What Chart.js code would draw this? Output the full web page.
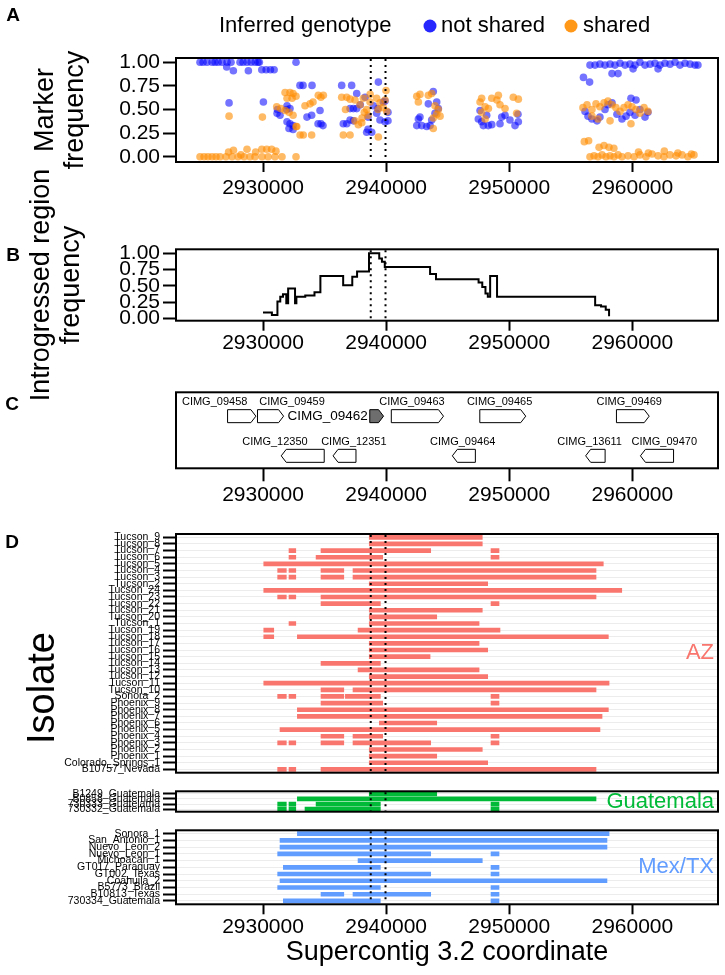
<!DOCTYPE html>
<html>
<head>
<meta charset="utf-8">
<title>Introgressed region on supercontig 3.2</title>
<script src="https://cdn.jsdelivr.net/npm/chart.js"></script>
<style>
  html, body { margin: 0; padding: 0; background: #ffffff; }
  #page { position: relative; width: 725px; height: 975px; overflow: hidden; }
  #page canvas { position: absolute; left: 0; }
</style>
</head>
<body>
<div id="page">
  <canvas id="panel_a" width="725" height="200" style="top:0px"></canvas>
  <canvas id="panel_b" width="725" height="235" style="top:165px"></canvas>
  <canvas id="panel_c" width="725" height="135" style="top:380px"></canvas>
  <canvas id="panel_d_az" width="725" height="267" style="top:515px"></canvas>
  <canvas id="panel_d_gt" width="725" height="39" style="top:782px"></canvas>
  <canvas id="panel_d_mx" width="725" height="154" style="top:821px"></canvas>
</div>
<script>
const FONT = '"Liberation Sans", Arial, Helvetica, sans-serif';

// shared x axis (supercontig coordinate)
const X_MIN = 2922930;
const X_MAX = 2966960;
const xTicks = [2930000, 2940000, 2950000, 2960000];
const yTicks = [0, 0.25, 0.5, 0.75, 1];
const dottedX = [2938750, 2939950];

// panel A: marker frequency, [coordinate, frequency]
const notShared = [
  [2924880,1.00],[2925130,1.00],[2925450,1.00],[2925860,1.00],[2926100,1.00],[2926350,1.00],[2926670,1.00],
  [2927080,1.00],[2927400,1.00],[2928130,1.00],[2928380,1.00],[2928700,1.00],[2929030,1.00],[2929350,1.00],
  [2929590,1.00],[2929700,1.00],[2927050,0.95],[2927590,0.91],[2928810,0.91],[2929900,0.92],[2930250,0.92],
  [2930600,0.92],[2930900,0.92],[2932680,1.00],[2927240,0.57],[2930030,0.58],
  [2933000,0.755],[2933250,0.755],[2933980,0.755],[2931950,0.54],[2932190,0.51],[2931140,0.46],[2931380,0.44],
  [2931950,0.37],[2932190,0.35],[2932440,0.33],[2932110,0.30],[2932440,0.29],[2933570,0.42],[2933950,0.44],
  [2934630,0.49],[2934470,0.35],[2934870,0.33],[2934710,0.35],[2931170,0.50],[2931920,0.50],
  [2936390,0.755],[2937200,0.755],[2937610,0.67],[2937070,0.51],[2937340,0.51],[2937610,0.51],[2936520,0.35],
  [2936800,0.35],[2937070,0.39],[2937340,0.38],[2938420,0.26],[2938830,0.26],[2938530,0.29],[2939370,0.79],
  [2938960,0.54],[2939230,0.46],[2939500,0.39],[2939770,0.58],[2939910,0.37],[2939340,0.51],[2939910,0.59],
  [2940150,0.47],[2940150,0.38],[2938530,0.42],[2938290,0.63],[2937900,0.55],
  [2943830,0.69],[2943430,0.56],[2944240,0.51],[2944110,0.58],[2942620,0.40],[2942750,0.42],[2942490,0.33],
  [2942890,0.33],[2943300,0.32],[2943570,0.33],[2943700,0.39],[2943970,0.46],
  [2947490,0.40],[2947760,0.37],[2947900,0.33],[2948580,0.34],[2949250,0.35],[2947630,0.49],[2948170,0.44],
  [2949390,0.42],[2949660,0.44],[2950060,0.39],[2950470,0.33],[2950740,0.37],[2950710,0.45],[2948300,0.33],
  [2956560,0.97],[2956970,0.97],[2957370,0.98],[2957780,0.97],[2958190,0.98],[2958590,0.97],[2959000,0.99],
  [2959410,0.97],[2959810,0.98],[2960220,0.97],[2960620,1.00],[2961030,0.97],[2961440,0.98],[2961840,0.99],
  [2962250,0.97],[2962650,0.99],[2963060,0.98],[2963470,1.00],[2963870,0.97],[2964280,0.99],[2964690,0.98],
  [2965090,0.97],[2965330,0.97],[2958350,0.88],[2958840,0.88],[2956030,0.84],[2956530,0.79],[2960060,0.93],
  [2962090,0.93],[2959890,0.62],[2960300,0.60],
  [2956160,0.48],[2956400,0.43],[2956720,0.40],[2957130,0.38],[2957370,0.42],[2957780,0.50],[2958020,0.55],
  [2958350,0.57],[2958750,0.45],[2959160,0.40],[2959490,0.43],[2959810,0.47],[2960220,0.44],[2960620,0.50],
  [2961030,0.42],[2961270,0.47]
];
const shared = [
  [2924880,0],[2925210,0],[2925530,0],[2925860,0],[2926180,0],[2926510,0],[2926990,0],[2927480,0],
  [2927970,0],[2928460,0],[2928940,0],[2929350,0],[2929920,0],[2930410,0],[2930970,0],[2931540,0],[2932680,0],
  [2927200,0.05],[2927600,0.07],[2928700,0.08],[2928200,0.02],[2929400,0.05],[2929900,0.08],[2930300,0.08],
  [2930700,0.08],[2931050,0.06],[2927240,0.43],[2929950,0.42],
  [2931790,0.68],[2932190,0.68],[2932440,0.67],[2931950,0.62],[2932360,0.62],[2932680,0.64],[2931110,0.53],
  [2931440,0.51],[2931790,0.49],[2932110,0.47],[2932440,0.44],[2932740,0.32],[2933010,0.23],[2933270,0.23],
  [2933950,0.23],[2933410,0.54],[2933820,0.56],[2934060,0.58],[2934490,0.65],[2934900,0.65],[2934700,0.63],
  [2932680,0.32],
  [2936390,0.63],[2936800,0.63],[2937070,0.61],[2937470,0.60],[2936520,0.23],[2937070,0.23],[2937470,0.38],
  [2937740,0.34],[2938020,0.36],[2937880,0.55],[2938150,0.62],[2938420,0.50],[2938530,0.44],[2938690,0.58],
  [2938230,0.47],[2938040,0.41],[2939230,0.62],[2939500,0.57],[2939770,0.52],[2940050,0.48],[2939340,0.50],
  [2939910,0.60],[2939370,0.21],[2939990,0.70],[2938700,0.66],[2936700,0.50],
  [2942490,0.64],[2942750,0.66],[2943430,0.65],[2943700,0.67],[2942620,0.58],[2943970,0.54],[2944240,0.50],
  [2944380,0.43],[2943830,0.41],[2944110,0.45],[2943830,0.30],
  [2947760,0.62],[2948580,0.62],[2949120,0.65],[2947630,0.58],[2948040,0.53],[2948310,0.51],[2949250,0.55],
  [2949660,0.51],[2950330,0.63],[2950740,0.61],[2947760,0.47],[2948040,0.40],[2950600,0.46],[2949000,0.60],
  [2956560,0],[2956890,0.01],[2957210,0],[2957540,0.02],[2957860,0],[2958190,0.01],[2958510,0],[2958840,0.02],
  [2959160,0],[2959650,0.01],[2960140,0],[2960620,0.02],[2961110,0],[2961600,0.03],[2962090,0.01],[2962570,0],
  [2963060,0.02],[2963550,0.01],[2964040,0.02],[2964520,0],[2965010,0.02],
  [2957300,0.10],[2957700,0.12],[2958100,0.10],[2958500,0.09],[2956100,0.16],[2956450,0.17],[2960500,0.05],
  [2961300,0.04],[2962600,0.06],[2963700,0.04],[2964800,0.03],
  [2955990,0.52],[2956320,0.55],[2956720,0.50],[2957050,0.56],[2957370,0.53],[2957700,0.57],[2958020,0.59],
  [2958350,0.55],[2958670,0.52],[2959000,0.48],[2959320,0.52],[2959650,0.55],[2959970,0.53],[2960300,0.50],
  [2960620,0.46],[2960950,0.52],[2961270,0.48],[2956720,0.43],[2957210,0.40],[2959890,0.35],[2958190,0.38]
];

// panel B: introgressed region frequency (step line)
const stepX = [2930000, 2930720, 2931170, 2931400, 2931620, 2931890, 2932040, 2932600, 2932710, 2933430,
  2934180, 2934660, 2936510, 2937250, 2937640, 2938610, 2939440, 2939660, 2939890, 2943570, 2944050,
  2947510, 2947810, 2948070, 2948260, 2948450, 2949010, 2956980, 2957460, 2957840, 2958110];
const stepY = [0.09, 0.05, 0.26, 0.33, 0.37, 0.23, 0.46, 0.23, 0.33, 0.35, 0.40, 0.65, 0.51, 0.64, 0.72,
  1.00, 0.92, 0.87, 0.79, 0.68, 0.60, 0.55, 0.48, 0.38, 0.33, 0.65, 0.33, 0.20, 0.18, 0.13, 0.03];

// panel C: genes
const geneNames  = ['CIMG_09458','CIMG_09459','CIMG_09462','CIMG_09463','CIMG_09465','CIMG_09469',
                    'CIMG_12350','CIMG_12351','CIMG_09464','CIMG_13611','CIMG_09470'];
const geneStart  = [2927120, 2929550, 2938670, 2940420, 2947610, 2958710, 2931480, 2935690, 2945380, 2956210, 2960660];
const geneEnd    = [2929420, 2931670, 2939790, 2944660, 2951340, 2961370, 2934970, 2937550, 2947250, 2957790, 2963350];
const geneStrand = [1, 1, 1, 1, 1, 1, -1, -1, -1, -1, -1];
const geneRow    = [0, 0, 0, 0, 0, 0, 1, 1, 1, 1, 1];
const geneFocus  = [false, false, true, false, false, false, false, false, false, false, false];
const geneLabelX = [2926070, 2932360, 2935250, 2942100, 2949220, 2959750, 2930970, 2937380, 2946220, 2956530, 2962600];
const geneRowY   = [0.686, 0.164];
const geneLabelY = [0.876, 0.35];

// panel D: introgressed tracts per isolate [isolate, start, end]
const azRows = ['Tucson_9','Tucson_8','Tucson_7','Tucson_6','Tucson_5','Tucson_4','Tucson_3','Tucson_2',
  'Tucson_24','Tucson_23','Tucson_22','Tucson_21','Tucson_20','Tucson_1','Tucson_19','Tucson_18','Tucson_17',
  'Tucson_16','Tucson_15','Tucson_14','Tucson_13','Tucson_12','Tucson_11','Tucson_10','Sonora_2','Phoenix_9',
  'Phoenix_8','Phoenix_7','Phoenix_6','Phoenix_5','Phoenix_4','Phoenix_3','Phoenix_2','Phoenix_1',
  'Colorado_Springs_1','B10757_Nevada'];
const azSegments = [
  ['Tucson_9', 2938630, 2947810],
  ['Tucson_8', 2938630, 2947810],
  ['Tucson_7', 2932110, 2932660], ['Tucson_7', 2934710, 2943620], ['Tucson_7', 2948520, 2949170],
  ['Tucson_6', 2932110, 2932660], ['Tucson_6', 2934310, 2939720], ['Tucson_6', 2948520, 2949170],
  ['Tucson_5', 2930060, 2957640],
  ['Tucson_4', 2931190, 2931890], ['Tucson_4', 2932110, 2932660], ['Tucson_4', 2934710, 2936560], ['Tucson_4', 2937310, 2957050],
  ['Tucson_3', 2931190, 2931890], ['Tucson_3', 2932110, 2932660], ['Tucson_3', 2934710, 2936560], ['Tucson_3', 2937310, 2957050],
  ['Tucson_2', 2938630, 2948250],
  ['Tucson_24', 2930060, 2959140],
  ['Tucson_23', 2931190, 2931890], ['Tucson_23', 2932110, 2932660], ['Tucson_23', 2934710, 2957050],
  ['Tucson_22', 2934710, 2939530], ['Tucson_22', 2948520, 2949170],
  ['Tucson_21', 2938630, 2947810],
  ['Tucson_20', 2938630, 2944110],
  ['Tucson_1', 2932110, 2932660], ['Tucson_1', 2938630, 2947550],
  ['Tucson_19', 2930060, 2930870], ['Tucson_19', 2937720, 2949250],
  ['Tucson_18', 2930060, 2930870], ['Tucson_18', 2932790, 2958050],
  ['Tucson_17', 2938630, 2947550],
  ['Tucson_16', 2938630, 2948250],
  ['Tucson_15', 2938630, 2943570],
  ['Tucson_14', 2934710, 2939530],
  ['Tucson_13', 2937720, 2947550],
  ['Tucson_12', 2938630, 2948250],
  ['Tucson_11', 2930060, 2958110],
  ['Tucson_10', 2934710, 2936560], ['Tucson_10', 2937310, 2957050],
  ['Sonora_2', 2931190, 2931890], ['Sonora_2', 2932110, 2932660], ['Sonora_2', 2934710, 2936560],
  ['Sonora_2', 2936690, 2939530], ['Sonora_2', 2948520, 2949170],
  ['Phoenix_9', 2934710, 2939720], ['Phoenix_9', 2948520, 2949170],
  ['Phoenix_8', 2932790, 2958050],
  ['Phoenix_7', 2932790, 2957540],
  ['Phoenix_6', 2939450, 2944110],
  ['Phoenix_5', 2931380, 2957370],
  ['Phoenix_4', 2934710, 2936560], ['Phoenix_4', 2937310, 2939720], ['Phoenix_4', 2948520, 2949170],
  ['Phoenix_3', 2931190, 2931890], ['Phoenix_3', 2932110, 2932660], ['Phoenix_3', 2934710, 2936560],
  ['Phoenix_3', 2937310, 2943620], ['Phoenix_3', 2948520, 2949170],
  ['Phoenix_2', 2938630, 2947810],
  ['Phoenix_1', 2938630, 2944110],
  ['Colorado_Springs_1', 2938630, 2948250],
  ['B10757_Nevada', 2931190, 2931890], ['B10757_Nevada', 2932110, 2932660], ['B10757_Nevada', 2934710, 2957050]
];

const gtRows = ['B1249_Guatemala','B0858_Guatemala','730333_Guatelama','730332_Guatemala'];
const gtSegments = [
  ['B1249_Guatemala', 2938630, 2944110],
  ['B0858_Guatemala', 2932790, 2957050],
  ['730333_Guatelama', 2931190, 2931890], ['730333_Guatelama', 2932110, 2932660],
  ['730333_Guatelama', 2934310, 2939530], ['730333_Guatelama', 2948520, 2949170],
  ['730332_Guatemala', 2931190, 2931890], ['730332_Guatemala', 2932110, 2932660],
  ['730332_Guatemala', 2933410, 2939530], ['730332_Guatemala', 2948520, 2949170]
];

const mxRows = ['Sonora_1','San_Antonio_1','Nuevo_Leon_2','Nuevo_Leon_1','Michoacan_1','GT017_Paraguay',
  'GT002_Texas','Coahuila_2','B5773_Brazil','B10813_Texas','730334_Guatemala'];
const mxSegments = [
  ['Sonora_1', 2932790, 2958110],
  ['San_Antonio_1', 2931380, 2957940],
  ['Nuevo_Leon_2', 2931380, 2957940],
  ['Nuevo_Leon_1', 2931190, 2943620], ['Nuevo_Leon_1', 2948520, 2949170],
  ['Michoacan_1', 2937720, 2947810],
  ['GT017_Paraguay', 2931650, 2939530], ['GT017_Paraguay', 2948520, 2949170],
  ['GT002_Texas', 2931190, 2943620], ['GT002_Texas', 2948520, 2949170],
  ['Coahuila_2', 2931380, 2957940],
  ['B5773_Brazil', 2931190, 2939530], ['B5773_Brazil', 2948520, 2949170],
  ['B10813_Texas', 2934710, 2936560], ['B10813_Texas', 2937310, 2943620], ['B10813_Texas', 2948520, 2949170],
  ['730334_Guatemala', 2931650, 2939530], ['730334_Guatemala', 2948520, 2949170]
];

const BLUE = 'rgba(0, 0, 255, 0.55)';
const ORANGE = 'rgba(255, 140, 0, 0.6)';

document.addEventListener('DOMContentLoaded', function () {

  if (typeof Chart === 'undefined') {
    console.error('Chart.js is not loaded');
    return;
  }

  Chart.defaults.font.family = FONT;
  Chart.defaults.color = '#000000';

  const frameBox = {
    id: 'frameBox',
    afterDraw(chart) {
      const a = chart.chartArea, ctx = chart.ctx;
      ctx.save();
      ctx.strokeStyle = '#000000';
      ctx.lineWidth = 2;
      ctx.strokeRect(a.left, a.top, a.right - a.left, a.bottom - a.top);
      ctx.restore();
    }
  };

  const dottedLines = {
    id: 'dottedLines',
    afterDatasetsDraw(chart) {
      const a = chart.chartArea, ctx = chart.ctx, xs = chart.scales.x;
      ctx.save();
      ctx.strokeStyle = '#000000';
      ctx.lineWidth = 2;
      ctx.setLineDash([2, 4]);
      dottedX.forEach(v => {
        const px = xs.getPixelForValue(v);
        ctx.beginPath();
        ctx.moveTo(px, a.top + 1);
        ctx.lineTo(px, a.bottom - 1);
        ctx.stroke();
      });
      ctx.restore();
    }
  };

  function textPlugin(items) {
    return {
      id: 'extraText',
      afterDraw(chart) {
        const ctx = chart.ctx;
        items.forEach(t => {
          ctx.save();
          ctx.font = t.font;
          ctx.fillStyle = t.color || '#000000';
          ctx.textAlign = t.align || 'left';
          ctx.textBaseline = 'middle';
          ctx.translate(t.x, t.y);
          if (t.rotate) ctx.rotate(t.rotate);
          ctx.fillText(t.text, 0, 0);
          ctx.restore();
        });
      }
    };
  }

  function groupLabel(text, color) {
    return {
      id: 'groupLabel',
      afterDraw(chart) {
        const a = chart.chartArea, ctx = chart.ctx;
        ctx.save();
        ctx.font = '22px ' + FONT;
        ctx.fillStyle = color;
        ctx.textAlign = 'right';
        ctx.textBaseline = 'middle';
        ctx.fillText(text, a.right - 4, (a.top + a.bottom) / 2);
        ctx.restore();
      }
    };
  }

  const legendA = {
    id: 'legendA',
    afterDraw(chart) {
      const ctx = chart.ctx, y = 26;
      ctx.save();
      ctx.font = '22px ' + FONT;
      ctx.fillStyle = '#000000';
      ctx.textBaseline = 'middle';
      ctx.textAlign = 'left';
      ctx.fillText('Inferred genotype', 219, y);
      ctx.fillText('not shared', 441, y);
      ctx.fillText('shared', 583, y);
      ctx.fillStyle = 'rgba(0, 0, 255, 0.85)';
      ctx.beginPath(); ctx.arc(430, y, 6.5, 0, Math.PI * 2); ctx.fill();
      ctx.fillStyle = 'rgba(255, 140, 0, 0.9)';
      ctx.beginPath(); ctx.arc(571, y, 6.5, 0, Math.PI * 2); ctx.fill();
      ctx.restore();
    }
  };

  const genesPlugin = {
    id: 'genes',
    afterDatasetsDraw(chart) {
      const xs = chart.scales.x, ys = chart.scales.y, ctx = chart.ctx;
      const head = 5, half = 6.5;
      ctx.save();
      ctx.lineWidth = 1;
      ctx.strokeStyle = '#000000';
      geneNames.forEach((name, i) => {
        const x1 = xs.getPixelForValue(geneStart[i]);
        const x2 = xs.getPixelForValue(geneEnd[i]);
        const yc = ys.getPixelForValue(geneRowY[geneRow[i]]);
        const yt = yc - half, yb = yc + half;
        ctx.beginPath();
        if (geneStrand[i] > 0) {
          ctx.moveTo(x1, yt); ctx.lineTo(x2 - head, yt); ctx.lineTo(x2, yc);
          ctx.lineTo(x2 - head, yb); ctx.lineTo(x1, yb);
        } else {
          ctx.moveTo(x2, yt); ctx.lineTo(x1 + head, yt); ctx.lineTo(x1, yc);
          ctx.lineTo(x1 + head, yb); ctx.lineTo(x2, yb);
        }
        ctx.closePath();
        ctx.fillStyle = geneFocus[i] ? '#6e6e6e' : '#ffffff';
        ctx.fill();
        ctx.stroke();

        ctx.fillStyle = '#000000';
        ctx.textAlign = 'center';
        ctx.textBaseline = 'middle';
        ctx.font = (geneFocus[i] ? '13.5px ' : '11px ') + FONT;
        const ly = geneFocus[i] ? yc : ys.getPixelForValue(geneLabelY[geneRow[i]]);
        ctx.fillText(name, xs.getPixelForValue(geneLabelX[i]), ly);
      });
      ctx.restore();
    }
  };

  function xAxis(show, tickLen, pad, height, title) {
    return {
      type: 'linear',
      display: show,
      min: X_MIN,
      max: X_MAX,
      afterBuildTicks: s => { s.ticks = xTicks.map(v => ({ value: v })); },
      ticks: {
        color: '#000000', font: { size: 21 }, padding: pad,
        maxRotation: 0, autoSkip: false, callback: v => String(v)
      },
      grid: { drawOnChartArea: false, tickLength: tickLen, tickColor: '#000000', tickWidth: 2 },
      border: { display: false },
      title: title
        ? { display: true, text: title, color: '#000000', font: { size: 27 }, padding: { top: 0, bottom: 6 } }
        : { display: false },
      afterFit: s => { s.height = height; }
    };
  }

  function yFreqAxis(lines, titlePad, yMin, yMax) {
    return {
      type: 'linear',
      min: yMin,
      max: yMax,
      afterBuildTicks: s => { s.ticks = yTicks.map(v => ({ value: v })); },
      ticks: { color: '#000000', font: { size: 21 }, padding: 3, autoSkip: false, callback: v => v.toFixed(2) },
      grid: { drawOnChartArea: false, tickLength: 13, tickColor: '#000000', tickWidth: 2 },
      border: { display: false },
      title: {
        display: true, text: lines, color: '#000000',
        font: { size: 27, lineHeight: 1.1 }, padding: { top: titlePad, bottom: 0 }
      },
      afterFit: s => { s.width = 176; }
    };
  }

  const base = {
    responsive: false,
    animation: false,
    devicePixelRatio: 1,
    events: [],
    plugins: { legend: { display: false }, tooltip: { enabled: false } }
  };

  // A
  new Chart(document.getElementById('panel_a'), {
    type: 'scatter',
    data: {
      datasets: [
        { label: 'shared', data: shared.map(p => ({ x: p[0], y: p[1] })),
          backgroundColor: ORANGE, borderWidth: 0, pointRadius: 3.8 },
        { label: 'not shared', data: notShared.map(p => ({ x: p[0], y: p[1] })),
          backgroundColor: BLUE, borderWidth: 0, pointRadius: 3.8 }
      ]
    },
    options: Object.assign({}, base, {
      layout: { padding: { top: 58, right: 7, left: 0, bottom: 0 } },
      scales: {
        x: xAxis(true, 10, 4, 38),
        y: yFreqAxis(['Marker', 'frequency'], 31, -0.055, 1.045)
      }
    }),
    plugins: [dottedLines, frameBox, legendA,
      textPlugin([{ text: 'A', x: 13, y: 16, font: 'bold 19px ' + FONT, align: 'center' }])]
  });

  // B
  new Chart(document.getElementById('panel_b'), {
    type: 'line',
    data: {
      datasets: [{
        label: 'Introgressed region frequency',
        data: stepX.map((x, i) => ({ x: x, y: stepY[i] })),
        borderColor: '#000000', borderWidth: 2, pointRadius: 0, fill: false, stepped: 'before'
      }]
    },
    options: Object.assign({}, base, {
      layout: { padding: { top: 84.3, right: 7, left: 0, bottom: 0 } },
      scales: {
        x: xAxis(true, 10, 0, 79.3),
        y: yFreqAxis(['Introgressed region', 'frequency'], 27, -0.037, 1.062)
      }
    }),
    plugins: [dottedLines, frameBox,
      textPlugin([{ text: 'B', x: 13, y: 91, font: 'bold 19px ' + FONT, align: 'center' }])]
  });

  // C
  new Chart(document.getElementById('panel_c'), {
    type: 'scatter',
    data: { datasets: [] },
    options: Object.assign({}, base, {
      layout: { padding: { top: 12.3, right: 7, left: 176, bottom: 0 } },
      scales: {
        x: xAxis(true, 13, 1, 46.7),
        y: { type: 'linear', display: false, min: 0, max: 1 }
      }
    }),
    plugins: [genesPlugin, frameBox,
      textPlugin([{ text: 'C', x: 12, y: 25, font: 'bold 19px ' + FONT, align: 'center' }])]
  });

  // D
  function groupChart(id, rows, segs, color, name, showX, padTop, padBottom, extra) {
    return new Chart(document.getElementById(id), {
      type: 'bar',
      data: {
        labels: rows,
        datasets: [{
          label: name,
          data: segs.map(s => ({ y: s[0], x: [s[1], s[2]] })),
          backgroundColor: color,
          borderWidth: 0,
          barThickness: 4
        }]
      },
      options: Object.assign({}, base, {
        indexAxis: 'y',
        layout: { padding: { top: padTop, right: 7, left: 0, bottom: padBottom } },
        scales: {
          x: showX ? xAxis(true, 10, 0, 70.7, 'Supercontig 3.2 coordinate')
                   : { type: 'linear', display: false, min: X_MIN, max: X_MAX },
          y: {
            type: 'category',
            offset: true,
            ticks: { color: '#000000', font: { size: 10.5 }, padding: 3, autoSkip: false },
            grid: { offset: false, color: '#ececec', lineWidth: 1, tickLength: 13, tickColor: '#000000', tickWidth: 2 },
            border: { display: false },
            afterFit: s => { s.width = 176; }
          }
        }
      }),
      plugins: [dottedLines, frameBox, groupLabel(name, color)].concat(extra || [])
    });
  }

  groupChart('panel_d_az', azRows, azSegments, '#F8766D', 'AZ', false, 19, 4.3, [
    textPlugin([
      { text: 'D', x: 12, y: 28, font: 'bold 19px ' + FONT, align: 'center' },
      { text: 'Isolate', x: 44, y: 173, font: '38px ' + FONT, align: 'center', rotate: -Math.PI / 2 }
    ])
  ]);
  groupChart('panel_d_gt', gtRows, gtSegments, '#00BA38', 'Guatemala', false, 5.7, 4.3);
  groupChart('panel_d_mx', mxRows, mxSegments, '#619CFF', 'Mex/TX', true, 5.7, 0);
});
</script>
</body>
</html>
